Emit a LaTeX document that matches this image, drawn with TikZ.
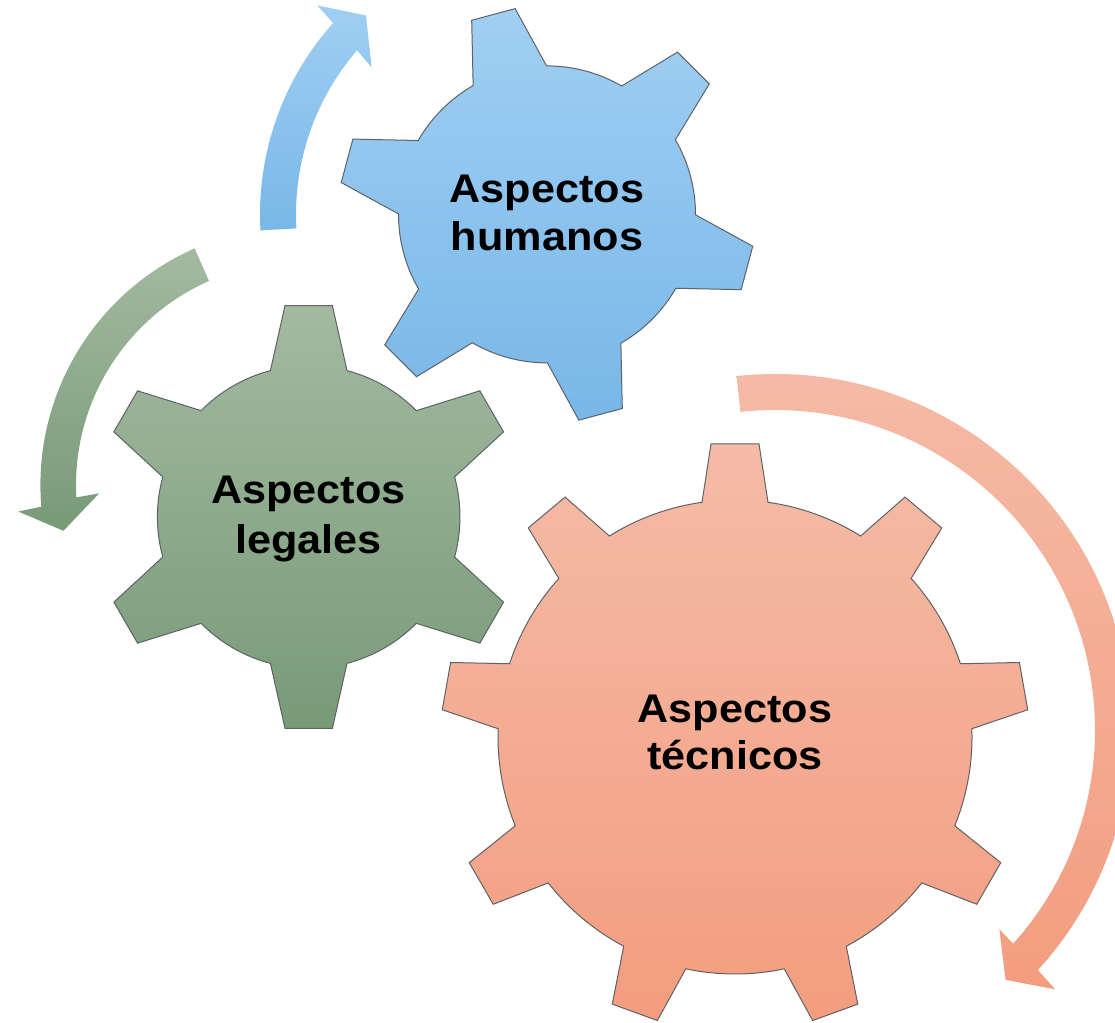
\documentclass[tikz,border=0pt]{standalone}
\usepackage{fontspec}
\newfontfamily\gearfont{Liberation Sans}[FakeStretch=1.08]
\definecolor{bluetop}{HTML}{A0CFF3}
\definecolor{bluebot}{HTML}{78B7E8}
\definecolor{greentop}{HTML}{A3BAA1}
\definecolor{greenbot}{HTML}{789A77}
\definecolor{orangetop}{HTML}{F5BBA7}
\definecolor{orangebot}{HTML}{F39D7F}
\definecolor{gearedge}{HTML}{5E6266}
\tikzset{
  gearline/.style={draw=gearedge, line width=1pt, line join=miter},
  lbl/.style={inner sep=0pt, font=\gearfont\bfseries\fontsize{40}{48}\selectfont, text=black},
  arrowband/.style={draw=none}
}
\newcommand{\mygear}[9]{%
  % #1 centre, #2 teeth, #3 first angle, #4 body r, #5 tip r, #6 tip half width, #7 base half width, #8 top colour, #9 bottom colour
  \pgfmathsetmacro\gd{360/#2}%
  \pgfmathsetmacro\gab{asin(#7/#4)}%
  \pgfmathsetmacro\gat{atan(#6/#5)}%
  \pgfmathsetmacro\grc{#5/cos(\gat)}%
  \pgfmathtruncatemacro\gnm{#2-1}%
  \shade[gearline, top color=#8, bottom color=#9, shift={(#1)}]
    ({#3-\gab}:#4) foreach \k in {0,...,\gnm}{
      -- ({#3+\k*\gd-\gat}:\grc) -- ({#3+\k*\gd+\gat}:\grc) -- ({#3+\k*\gd+\gab}:#4)
      arc[start angle={#3+\k*\gd+\gab}, end angle={#3+(\k+1)*\gd-\gab}, radius=#4]
    } -- cycle;
}
\begin{document}
\begin{tikzpicture}[x=1pt,y=1pt]
\fill[white] (0,0) rectangle (1115,1022);
\clip (0,0) rectangle (1115,1022);

\coordinate (bluec) at (547,807.6);
\coordinate (greenc) at (308.7,505);
\coordinate (orangec) at (735,285);
\coordinate (bluearc) at (547,807.6);
\coordinate (greenarc) at (299,537);
\coordinate (orangearc) at (775,292);

% arrows
\shade[arrowband, top color=bluetop, bottom color=bluebot, shift={(bluearc)}]
  (183.2:287) arc[start angle=183.2, end angle=138.2, radius=287]
  -- (137.7:310.6) -- (132.3:269) -- (140:229) -- (139.2:251)
  arc[start angle=139.2, end angle=183.2, radius=251] -- cycle;

\shade[arrowband, top color=greentop, bottom color=greenbot, shift={(greenarc)}]
  (113.8:258.6) arc[start angle=113.8, end angle=184.8, radius=258.6]
  -- (185.4:282) -- (191:240) -- (182.4:200) -- (183.2:223)
  arc[start angle=183.2, end angle=113.8, radius=223] -- cycle;

\shade[arrowband, top color=orangetop, bottom color=orangebot, shift={(orangearc)}]
  (96.2:356) arc[start angle=96.2, end angle=-42.4, radius=356]
  -- (-42.8:381.6) -- (-47.3:340) -- (-41.6:300) -- (-41.9:320)
  arc[start angle=-41.9, end angle=96.2, radius=320] -- cycle;

% gears
\mygear{bluec}{6}{105}{148.5}{207}{22.5}{38}{bluetop}{bluebot}
\mygear{greenc}{6}{90}{151.3}{211.3}{23.7}{38.3}{greentop}{greenbot}
\mygear{orangec}{9}{90}{237}{293}{24}{33}{orangetop}{orangebot}

% labels
\node[lbl, anchor=base] (hum1) at (547,819.3) {Aspectos};
\node[lbl, anchor=base] (hum2) at (547,771.3) {humanos};
\node[lbl, anchor=base] (leg1) at (308.5,518.7) {Aspectos};
\node[lbl, anchor=base] (leg2) at (308.5,468.7) {legales};
\node[lbl, anchor=base] (tec1) at (735,299.4) {Aspectos};
\node[lbl, anchor=base] (tec2) at (735,252.2) {técnicos};
\end{tikzpicture}
\end{document}
